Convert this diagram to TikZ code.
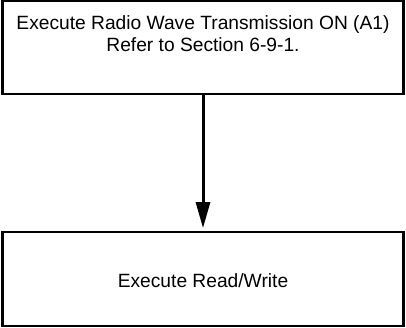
\documentclass[tikz,border=0pt]{standalone}
\usepackage{fontspec}
\setmainfont{Liberation Sans}
\usetikzlibrary{arrows.meta}
\begin{document}
\begin{tikzpicture}[x=1pt,y=1pt,
  boxstyle/.style={draw=black, line width=2.8pt, minimum width=401pt, inner sep=0pt,
    align=center, font=\fontsize{19.2}{22}\selectfont},
  flowarrow/.style={line width=3pt, -{Triangle[length=26pt,width=14pt]}, shorten >=2.5pt}]
\useasboundingbox (0,0) rectangle (406,-328);
\node[boxstyle, minimum height=93pt] (top) at (203,-47.5)
  {Execute Radio Wave Transmission ON (A1)\\Refer to Section 6-9-1.\\\strut};
\node[boxstyle, minimum height=94pt, text depth=0pt] (bot) at (203,-279)
  {\raisebox{-4pt}{Execute Read/Write}};
\draw[flowarrow] (top.south) -- (bot.north);
\end{tikzpicture}
\end{document}
